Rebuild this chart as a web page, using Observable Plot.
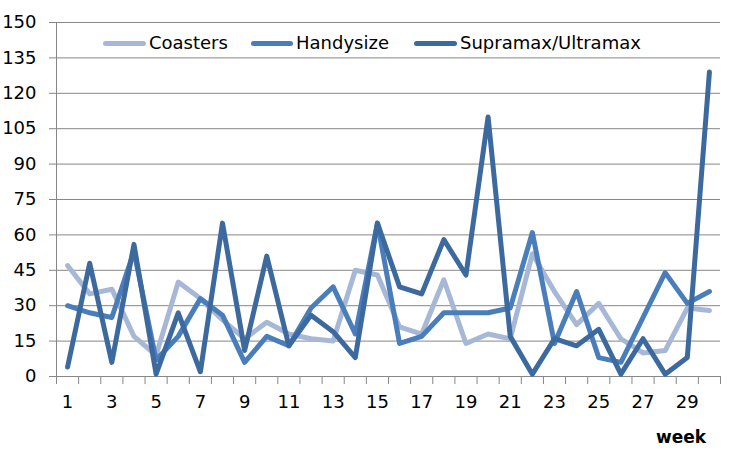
<!DOCTYPE html>
<html>
<head>
<meta charset="utf-8">
<script src="https://cdn.jsdelivr.net/npm/d3@7"></script>
<script src="https://cdn.jsdelivr.net/npm/@observablehq/plot@0.6"></script>
<style>
  html, body { margin:0; padding:0; background:#fff; }
  #wrap { position:relative; width:742px; height:470px; font-family:"DejaVu Sans", Verdana, sans-serif; }
  .sw { position:absolute; height:5px; border-radius:3px; }
  .lt { position:absolute; font-size:18px; color:#000; line-height:18px; }
  #xt { position:absolute; left:656px; top:429px; font-size:17px; font-weight:bold; line-height:17px; }
</style>
</head>
<body>
<div id="wrap"></div>
<script>
const weeks = [1,2,3,4,5,6,7,8,9,10,11,12,13,14,15,16,17,18,19,20,21,22,23,24,25,26,27,28,29,30];
const coasters  = [47,35,37,17,9,40,33,24,16,23,18,16,15,45,43,21,18,41,14,18,16,52,36,22,31,16,10,11,29,28];
const handysize = [30,27,25,53,7,17,33,26,6,17,13,29,38,18,65,14,17,27,27,27,29,61,14,36,8,6,25,44,31,36];
const supramax  = [4,48,6,56,1,27,2,65,11,51,13,26,19,8,65,38,35,58,43,110,17,1,16,13,20,1,16,1,8,129];
const seriesNames = ["Coasters","Handysize","Supramax/Ultramax"];
const seriesColors = ["#A7B8D6","#4A7EBB","#3D6A9E"];
const yTicks = [0,15,30,45,60,75,90,105,120,135,150];
const xLabels = [1,3,5,7,9,11,13,15,17,19,21,23,25,27,29];
const xEdges = [0.5,1.5,2.5,3.5,4.5,5.5,6.5,7.5,8.5,9.5,10.5,11.5,12.5,13.5,14.5,15.5,16.5,17.5,18.5,19.5,20.5,21.5,22.5,23.5,24.5,25.5,26.5,27.5,28.5,29.5,30.5];

const allSeries = [coasters, handysize, supramax];
const rows = [];
allSeries.forEach((vals, s) => vals.forEach((v, i) => rows.push({week: weeks[i], value: v, series: seriesNames[s]})));

const grid = "#878787";
const chart = Plot.plot({
  width: 742, height: 470,
  marginLeft: 56, marginRight: 22, marginTop: 22, marginBottom: 94,
  style: {fontFamily: "DejaVu Sans, Verdana, sans-serif", fontSize: "18px", background: "#fff", color: "#000"},
  x: {domain: [0.5, 30.5], axis: null, label: null},
  y: {domain: [0, 150], axis: null, label: null},
  color: {domain: seriesNames, range: seriesColors},
  marks: [
    Plot.ruleY(yTicks, {stroke: grid, strokeWidth: 1}),
    Plot.ruleX([0.5], {stroke: grid, strokeWidth: 1}),
    Plot.axisY({ticks: yTicks, tickSize: 7, tickPadding: 13, stroke: grid, fill: "#000", fontSize: 18, strokeOpacity: 1, label: null}),
    Plot.axisX({ticks: xEdges, tickSize: 8, tickFormat: () => "", stroke: grid, strokeOpacity: 1, label: null}),
    Plot.axisX({ticks: xLabels, tickSize: 0, tickPadding: 19, fill: "#000", fontSize: 18, tickFormat: d => String(d), label: null}),
    Plot.line(rows, {x: "week", y: "value", z: "series", stroke: "series", strokeWidth: 5, strokeLinejoin: "round", strokeLinecap: "round"})
  ]
});
const wrap = document.getElementById("wrap");
wrap.appendChild(chart);

// legend
const legendPos = [[103,149],[251,296],[414,460]];
seriesNames.forEach((name, i) => {
  const sw = document.createElement("div");
  sw.className = "sw";
  sw.style.left = legendPos[i][0] + "px";
  sw.style.top = "41px";
  sw.style.width = (legendPos[i][1] - legendPos[i][0] - 3) + "px";
  sw.style.background = seriesColors[i];
  wrap.appendChild(sw);
  const t = document.createElement("div");
  t.className = "lt";
  t.style.left = legendPos[i][1] + "px";
  t.style.top = "34px";
  t.textContent = name;
  wrap.appendChild(t);
});
const xt = document.createElement("div");
xt.id = "xt";
xt.textContent = "week";
wrap.appendChild(xt);
</script>
</body>
</html>
